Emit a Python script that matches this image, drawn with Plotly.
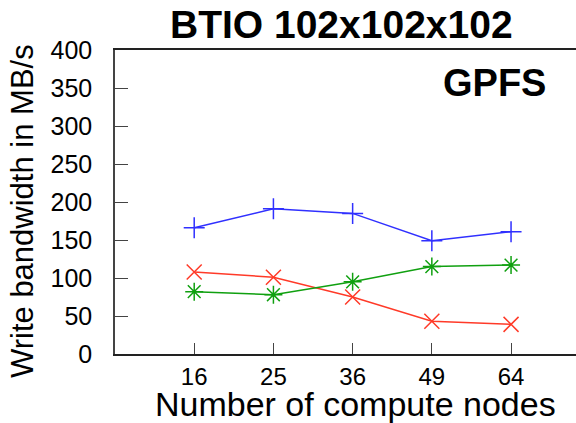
import plotly.graph_objects as go

nodes = ["16", "25", "36", "49", "64"]
series_blue = [166, 191, 185, 149, 161]
series_red = [108, 101, 75, 43, 39]
series_green = [82, 78, 95, 115, 117]
y_ticks = [0, 50, 100, 150, 200, 250, 300, 350, 400]

xpos = list(range(len(nodes)))
FONT = "Liberation Sans, Arial, sans-serif"

fig = go.Figure()
def add(vals, color, symbol, size):
    fig.add_trace(go.Scatter(
        x=xpos, y=vals, mode="lines+markers",
        line=dict(color=color, width=1.5),
        marker=dict(symbol=symbol, size=size, color=color,
                    line=dict(color=color, width=1.5)),
        showlegend=False))

add(series_blue, "#3030ff", "cross-thin-open", 15)
add(series_red, "#ff3a28", "x-thin-open", 15)
add(series_green, "#10a010", "asterisk-open", 15)

fig.update_layout(
    width=576, height=423,
    margin=dict(l=115, r=0, t=50, b=69),
    paper_bgcolor="white", plot_bgcolor="white",
    font=dict(family=FONT, color="black"),
    xaxis=dict(
        range=[-1, 4.82], tickmode="array", tickvals=xpos, ticktext=nodes,
        ticks="inside", ticklen=11, tickwidth=1.3, tickcolor="#444",
        showline=True, linecolor="#222", linewidth=1.5, mirror=True,
        showgrid=False, zeroline=False,
        tickfont=dict(size=24, family=FONT, color="black"),
        ticklabelstandoff=0,
    ),
    yaxis=dict(
        range=[0, 400], tickmode="array", tickvals=y_ticks,
        ticks="inside", ticklen=13, tickwidth=1.3, tickcolor="#444",
        showline=True, linecolor="#444", linewidth=1.5,
        showgrid=False, zeroline=False,
        tickfont=dict(size=25, family=FONT, color="black"),
        ticklabelstandoff=16,
    ),
    annotations=[
        dict(text="<b>BTIO 102x102x102</b>", xref="paper", yref="paper",
             x=(341 - 115) / 461, y=1 + (50 - 25) / 304, xanchor="center", yanchor="middle",
             showarrow=False, font=dict(size=39, family=FONT, color="black")),
        dict(text="<b>GPFS</b>", xref="paper", yref="paper",
             x=(494 - 115) / 461, y=1 - (83 - 50) / 304, xanchor="center", yanchor="middle",
             showarrow=False, font=dict(size=38, family=FONT, color="black")),
        dict(text="Number of compute nodes", xref="paper", yref="paper",
             x=(355 - 115) / 461, y=-(404 - 354) / 304, xanchor="center", yanchor="middle",
             showarrow=False, font=dict(size=34, family=FONT, color="black")),
        dict(text="Write bandwidth in MB/s", xref="paper", yref="paper",
             x=-(115 - 22) / 461, y=(354 - 211) / 304, xanchor="center", yanchor="middle",
             textangle=-90, showarrow=False, font=dict(size=31, family=FONT, color="black")),
    ],
)

fig.write_html("out.html")
